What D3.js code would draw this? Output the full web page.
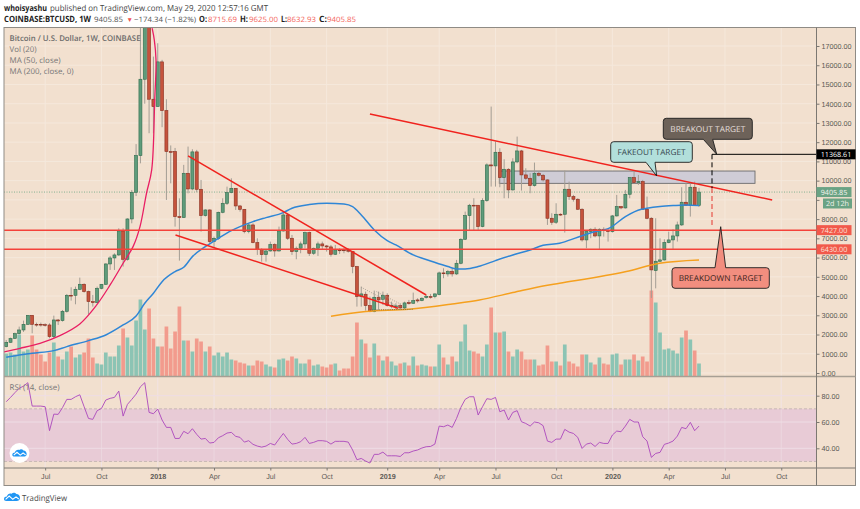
<!DOCTYPE html>
<html>
<head>
<meta charset="utf-8">
<script src="https://cdn.jsdelivr.net/npm/d3@7"></script>
<style>
  html, body { margin: 0; padding: 0; background: #ffffff; }
  svg { display: block; }
  text { font-family: "Open Sans", "Liberation Sans", sans-serif; text-rendering: geometricPrecision; }
  .axis text { font-family: "Liberation Sans", sans-serif; font-size: 7.2px; fill: #5d5a56; }
</style>
</head>
<body>
<div id="chart"></div>
<script>
// weekly candles
var candleOpen = [1371,1596,1804,2047,2238,2532,3000,2532,2532,2515,
  2497,1890,2757,2723,3208,4040,4040,4352,4612,4231,
  3711,3659,4404,4612,5669,5981,6137,7385,5912,8008,
  9395,11304,15272,18000,14233,13850,16174,13644,11512,11512,
  8130,8078,10383,9568,11495,9551,8182,8476,6830,7003,
  8355,8823,9378,9603,8684,8511,7350,7697,6778,6431,
  6154,6345,6674,6345,7385,8216,7005,6312,6485,6710,
  7300,6225,6485,6710,6606,6555,6173,6398,6398,6381,
  6312,5532,3972,4094,3504,3192,3938,3834,4042,3504,
  3452,3504,3383,3660,3626,3799,3764,3920,3972,3972,
  4076,5203,5151,5289,5151,5705,6953,8183,8721,8721,
  7612,8963,10818,10766,11476,10159,10592,9518,10973,11545,
  10298,10124,9743,10384,10280,10038,8045,7837,8253,8253,
  9553,9171,9033,8513,6918,7352,7473,7126,7473,7404,
  7352,8166,8651,8582,9293,10159,9899,9951,8513,8045,
  5324,5809,5878,6780,6918,7126,7698,8877,8721,9657,8716];
var candleClose = [1596,1787,2047,2238,2532,3000,2532,2497,2497,2480,
  1890,2757,2705,3208,4040,4005,4352,4612,4231,3711,
  3659,4404,4612,5669,5981,6137,7385,5912,8008,9395,
  11304,15272,19000,14233,13850,16174,13644,11512,11500,8130,
  8078,10383,9568,11495,9551,8182,8476,6830,7003,8355,
  8823,9378,9603,8684,8511,7350,7697,6778,6431,6154,
  6345,6674,6345,7385,8216,7005,6312,6485,6710,7300,
  6225,6485,6710,6606,6555,6173,6398,6364,6381,6329,
  5532,3972,4111,3504,3192,3938,3799,4042,3504,3522,
  3487,3383,3643,3608,3764,3747,3886,3972,3955,4111,
  5203,5186,5272,5151,5705,6953,8183,8721,8686,7612,
  8963,10818,10766,11476,10159,10592,9518,10973,11545,10298,
  10124,9743,10384,10280,10038,8045,7837,8253,8218,9553,
  9171,9033,8513,6918,7352,7473,7126,7473,7404,7352,
  8166,8651,8582,9293,10159,9899,9951,8513,8045,5359,
  5809,5878,6780,6918,7126,7698,8877,8721,9657,8721,9406];
var candleHigh = [1716,1839,2099,2411,2723,3000,3000,2619,2619,2584,
  2584,2983,2809,3277,4109,4456,4491,4958,4664,4283,
  4057,4491,4629,5703,6085,6223,7523,7523,8043,9516,
  11900,19000,19800,19700,16450,17144,16280,14233,11830,11700,
  9080,10820,11771,11633,11600,10036,8511,8511,7090,8390,
  9083,9690,10123,9603,8736,8511,7783,7783,7003,6483,
  6397,6830,6743,7610,8390,8303,7178,6572,6832,7352,
  7352,6520,6832,6832,6658,6658,6658,6485,6485,6485,
  6347,5567,4492,4232,3972,4284,4232,4232,4146,3712,
  3626,3626,3712,3799,4180,3886,3938,4059,4111,4146,
  5272,5445,5359,5445,5879,7005,8391,8790,9085,8721,
  9085,10900,13850,12031,11684,11112,10644,11164,12291,11598,
  10644,10384,10939,10471,10350,10072,8305,8825,8305,10523,
  9951,9258,9085,8565,7404,7525,7577,7525,7577,7473,
  8218,9258,8686,9518,10176,10471,10297,10038,9171,8097,
  8045,7005,6953,7351,7473,7871,9657,9865,9865,9951,9625];
var candleLow = [1336,1579,1770,2012,2134,2497,2064,2411,2411,2411,
  1804,1804,2497,2671,3139,3763,3572,4317,4178,3052,
  3451,3624,4352,4577,5357,5357,6085,5530,5842,7783,
  9200,10900,14000,12465,12465,13850,12780,8996,9860,7610,
  5842,8078,9340,9500,9400,7350,8130,6743,6483,6917,
  8303,8736,9343,8476,8390,7263,7263,6743,6137,5790,
  5790,6310,6050,6310,7350,6917,6139,5913,6225,6485,
  6086,6139,6086,6398,6312,6052,6139,6190,6225,6260,
  5186,3452,3452,3244,3158,3158,3279,3539,3452,3366,
  3314,3279,3279,3556,3591,3660,3730,3868,3868,3886,
  4042,4926,5012,5012,5099,5653,6918,7438,7438,7438,
  7577,8900,9691,9691,9657,9085,9085,9483,10904,9483,
  10038,9345,9691,10211,9951,7698,7698,7750,8166,7300,
  8998,8911,8479,6832,6485,7005,7057,6450,7092,6832,
  7300,8131,8513,8547,9085,9865,9778,8478,7993,3900,
  4400,5775,5844,6745,6450,6832,7646,8686,8131,8686,8633];
var volumes = [23,24,22,42,25,27,41,27,22,15,
  24,34,20,17,25,30,19,22,24,38,
  19,13,12,24,20,20,31,48,39,31,
  56,77,47,68,38,30,30,50,28,45,
  70,36,36,25,38,35,25,30,21,24,
  20,24,17,16,14,13,11,11,16,15,
  12,10,9,17,18,16,20,18,13,13,
  17,11,12,10,9,12,13,6,8,8,
  20,54,37,33,19,33,21,16,20,15,
  11,13,14,11,20,11,12,11,10,10,
  32,19,12,20,15,35,52,26,25,23,
  20,32,69,44,44,45,25,20,27,25,
  17,17,17,11,12,31,15,15,11,32,
  15,13,10,22,22,14,12,19,13,12,
  22,23,12,17,17,22,16,20,15,86,
  74,44,27,28,26,23,39,46,37,26,13];
var rsiValues = [75.4,78.7,82.3,85.6,87.3,89.9,72.1,72.1,72.1,71.6,
  53.4,66.0,65.8,70.9,77.2,77.2,79.2,80.7,71.6,62.7,
  62.0,68.6,70.3,76.7,78.0,78.7,83.5,64.5,73.4,77.2,
  81.2,86.8,89.9,67.3,66.3,69.8,61.5,55.9,55.9,47.5,
  47.5,52.9,51.1,54.9,50.6,47.0,47.5,44.0,44.5,48.0,
  49.6,51.6,52.1,49.1,48.3,44.7,45.8,43.0,41.7,40.9,
  41.7,43.7,42.5,47.0,51.3,46.8,43.2,43.7,45.0,48.3,
  43.7,44.5,45.8,45.8,45.3,43.2,45.3,45.3,45.3,44.7,
  38.7,31.3,32.3,30.3,28.8,35.4,35.4,37.1,34.3,34.3,
  34.3,33.8,36.6,36.6,37.9,38.7,40.2,41.2,41.4,43.2,
  56.9,56.4,57.7,55.9,62.7,71.1,77.2,79.2,79.2,65.3,
  71.6,77.7,77.2,78.7,67.8,69.1,61.5,67.3,68.6,60.2,
  58.9,56.9,60.0,59.4,57.2,45.5,44.5,47.0,47.0,54.4,
  52.3,51.3,48.3,39.9,43.2,44.0,41.4,44.5,43.7,43.7,
  50.1,53.1,52.6,56.9,62.0,60.0,60.0,48.8,45.5,33.1,
  36.1,36.9,43.0,44.0,45.5,49.3,55.9,54.9,59.7,53.4,56.9];

// moving averages, week number and price
var ma50Weeks = [0,3,6,11,14,19,23,27,30,32,34,36,39,41,43,46,49,52,54,57,60,64,66,70,74,78,80,82,85,88,90,94,98,102,104,106,109,113,117,121,124,127.8,132,135.5,139.5,143,146.7,148,151,154,157,160];
var ma50Prices = [816,938,1025,1163,1371,1683,1977,2497,2965,3624,4144,4750,5270,5496,6050,6570,7003,7402,7610,7870,8078,8338,8565,8755,8825,8790,8651,8218,7438,6884,6658,6139,5827,5532,5411,5411,5532,5844,6139,6399,6641,6745,7057,7317,7560,8131,8513,8565,8651,8703,8738,8703];
var ma200Weeks = [75,83,93,103,109.3,117,124,127.8,143.2,150.9,160];
var ma200Prices = [2950,3193,3314,3591,3799,4180,4527,4666,5272,5705,5878];
var curveWeeks = [-1.4,3.2,7.8,12.4,17,20.9,24,27,29.3,30.9,32.4,33.6,34.3,34.6,34.2,33.7];
var curvePrices = [1059,1285,1544,1943,2550,3537,4577,5704,6570,7610,9343,10556,14198,16278,17317,17924];

// trend lines drawn on the chart: [week, price, week, price]
var trendLines = [[84,13468,176.9,8996],[42,11284,97,4056],[39.1,7176,90.5,3364]];
var levelPrices = [7427,6430];
var levelLabels = ["7427.00","6430.00"];
var lastPrice = 9405.85;
var targetPrice = 11368.61;

var priceTicks = d3.range(0,18000,1000);
var rsiTicks = [40,60,80];
var timeWeeks = [9,22,35,48,61,74,88,100,113,127,140,153,166,179];
var timeLabels = ["Jul","Oct","2018","Apr","Jul","Oct","2019","Apr","Jul","Oct","2020","Apr","Jul","Oct"];

var width = 860, height = 509;
var frameL = 4, frameR = 855.5, axisX = 816.5, frameT = 27.5, mainB = 376.5, rsiB = 468, frameB = 485.5;
var bg = "#f2e0cf", gridCol = "#f5e8dc";
var upCol = "#5f9c7b", downCol = "#c5533c", upEdge = "#2f6b4c", downEdge = "#8a2f20";

var x = d3.scaleLinear().domain([0,160]).range([6.2,699]);
var y = d3.scaleLinear().domain([0,17000]).range([373,46]);
var yVol = d3.scaleLinear().domain([0,100]).range([mainB,mainB-100]);
var yRsi = d3.scaleLinear().domain([40,80]).range([448.3,395.7]);

var svg = d3.select("#chart").append("svg").attr("width",width).attr("height",height);
svg.append("rect").attr("width",width).attr("height",height).attr("fill","#ffffff");
svg.append("rect").attr("x",frameL).attr("y",frameT).attr("width",frameR-frameL).attr("height",frameB-frameT).attr("fill",bg);

var defs = svg.append("defs");
defs.append("clipPath").attr("id","mainClip").append("rect")
  .attr("x",frameL).attr("y",frameT).attr("width",axisX-frameL).attr("height",mainB-frameT);

// text squeezed to the width measured in the picture
var fitText = function(tx, ty, str, len, size, col, weight, family){
  var t = svg.append("text").attr("x",tx).attr("y",ty).attr("font-size",size).attr("fill",col)
    .attr("textLength",len).attr("lengthAdjust","spacingAndGlyphs").text(str);
  if(weight) t.attr("font-weight",weight);
  if(family) t.attr("font-family",family);
  return t;
};

// grid
var grid = svg.append("g").attr("stroke",gridCol).attr("stroke-width",1);
grid.selectAll(".h").data(priceTicks).enter().append("line").attr("class","h")
  .attr("x1",frameL).attr("x2",axisX).attr("y1",function(d){ return y(d); }).attr("y2",function(d){ return y(d); });
grid.selectAll(".v").data(timeWeeks).enter().append("line").attr("class","v")
  .attr("x1",function(d){ return x(d); }).attr("x2",function(d){ return x(d); }).attr("y1",frameT).attr("y2",rsiB);

var main = svg.append("g").attr("clip-path","url(#mainClip)");

// volume
main.selectAll(".vol").data(volumes).enter().append("rect").attr("class","vol")
  .attr("x",function(d,i){ return x(i)-1.85; }).attr("width",3.7)
  .attr("y",function(d){ return yVol(d); }).attr("height",function(d){ return mainB-yVol(d); })
  .attr("fill",function(d,i){ return candleClose[i]>=candleOpen[i] ? "#8cc4b4" : "#f29b8d"; });

// last price line
main.append("line").attr("x1",frameL).attr("x2",axisX).attr("y1",y(lastPrice)).attr("y2",y(lastPrice))
  .attr("stroke","#6aa384").attr("stroke-width",0.8).attr("stroke-dasharray","1,1.5");

// fakeout zone
main.append("rect").attr("x",499.3).attr("width",755-499.3).attr("y",y(10500)).attr("height",y(9860)-y(10500))
  .attr("fill","#cfccd6").attr("stroke","#6b6a6c").attr("stroke-width",0.9);

// candles
main.selectAll(".wick").data(candleOpen).enter().append("line").attr("class","wick")
  .attr("x1",function(d,i){ return x(i); }).attr("x2",function(d,i){ return x(i); })
  .attr("y1",function(d,i){ return y(candleHigh[i]); }).attr("y2",function(d,i){ return y(candleLow[i]); })
  .attr("stroke","#a39d94").attr("stroke-width",1);
main.selectAll(".body").data(candleOpen).enter().append("rect").attr("class","body")
  .attr("x",function(d,i){ return x(i)-1.5; }).attr("width",3)
  .attr("y",function(d,i){ return Math.min(y(d),y(candleClose[i])); })
  .attr("height",function(d,i){ return Math.max(0.8,Math.abs(y(d)-y(candleClose[i]))); })
  .attr("fill",function(d,i){ return candleClose[i]>=d ? upCol : downCol; })
  .attr("stroke",function(d,i){ return candleClose[i]>=d ? upEdge : downEdge; })
  .attr("stroke-width",0.6);

// averages
var maLine = d3.line().x(function(d){ return x(d[0]); }).y(function(d){ return y(d[1]); }).curve(d3.curveMonotoneX);
main.append("path").attr("d",maLine(d3.zip(ma200Weeks,ma200Prices)))
  .attr("fill","none").attr("stroke","#f5a01e").attr("stroke-width",1.5);
main.append("path").attr("d",maLine(d3.zip(ma50Weeks,ma50Prices)))
  .attr("fill","none").attr("stroke","#2f86d6").attr("stroke-width",1.5);
var curveLine = d3.line().x(function(d){ return x(d[0]); }).y(function(d){ return y(d[1]); }).curve(d3.curveCatmullRom);
main.append("path").attr("d",curveLine(d3.zip(curveWeeks,curvePrices)))
  .attr("fill","none").attr("stroke","#e91e63").attr("stroke-width",1.3);

// levels and trend lines
main.selectAll(".level").data(levelPrices).enter().append("line").attr("class","level")
  .attr("x1",frameL).attr("x2",axisX).attr("y1",function(d){ return y(d); }).attr("y2",function(d){ return y(d); })
  .attr("stroke","#f4423a").attr("stroke-width",1.5);
main.selectAll(".trend").data(trendLines).enter().append("line").attr("class","trend")
  .attr("x1",function(d){ return x(d[0]); }).attr("y1",function(d){ return y(d[1]); })
  .attr("x2",function(d){ return x(d[2]); }).attr("y2",function(d){ return y(d[3]); })
  .attr("stroke","#f0231e").attr("stroke-width",1.5);

// little triangle drawn at the 2019 bottom
var triLines = [[82,4458,90.7,3418],[85.5,4232,90.7,3626],[84,3279,94,3314]];
main.selectAll(".tri").data(triLines).enter().append("line").attr("class","tri")
  .attr("x1",function(d){ return x(d[0]); }).attr("y1",function(d){ return y(d[1]); })
  .attr("x2",function(d){ return x(d[2]); }).attr("y2",function(d){ return y(d[3]); })
  .attr("stroke",function(d,i){ return i==2 ? "#5b5b4e" : "#9d958b"; }).attr("stroke-width",0.8).attr("stroke-dasharray","1,1.2");

// target lines
main.append("line").attr("x1",712).attr("x2",712).attr("y1",y(targetPrice)).attr("y2",188)
  .attr("stroke","#000000").attr("stroke-width",1).attr("stroke-dasharray","5,3");
main.append("line").attr("x1",712).attr("x2",712).attr("y1",188).attr("y2",228)
  .attr("stroke","#e5372e").attr("stroke-width",1).attr("stroke-dasharray","5,3");
main.append("line").attr("x1",712).attr("x2",axisX).attr("y1",y(targetPrice)).attr("y2",y(targetPrice))
  .attr("stroke","#000000").attr("stroke-width",1);

// callouts
var callout = function(bx, by, bw, bh, tail, fill, txtCol, label, len){
  var p;
  if(tail[2][1] > by+bh){
    p = "M"+(bx+3)+","+by+"H"+(bx+bw-3)+"Q"+(bx+bw)+","+by+" "+(bx+bw)+","+(by+3)+"V"+(by+bh-3)+"Q"+(bx+bw)+","+(by+bh)+" "+(bx+bw-3)+","+(by+bh)
      +"H"+tail[1][0]+"L"+tail[2][0]+","+tail[2][1]+"L"+tail[0][0]+","+tail[0][1]
      +"H"+(bx+3)+"Q"+bx+","+(by+bh)+" "+bx+","+(by+bh-3)+"V"+(by+3)+"Q"+bx+","+by+" "+(bx+3)+","+by+"Z";
  } else {
    p = "M"+(bx+3)+","+by+"H"+tail[0][0]+"L"+tail[2][0]+","+tail[2][1]+"L"+tail[1][0]+","+tail[1][1]+"H"+(bx+bw-3)
      +"Q"+(bx+bw)+","+by+" "+(bx+bw)+","+(by+3)+"V"+(by+bh-3)+"Q"+(bx+bw)+","+(by+bh)+" "+(bx+bw-3)+","+(by+bh)
      +"H"+(bx+3)+"Q"+bx+","+(by+bh)+" "+bx+","+(by+bh-3)+"V"+(by+3)+"Q"+bx+","+by+" "+(bx+3)+","+by+"Z";
  }
  svg.append("path").attr("d",p).attr("fill",fill).attr("stroke","#1c1c1c").attr("stroke-width",0.9);
  fitText(bx+(bw-len)/2,by+bh/2+2.9,label,len,8.2,txtCol);
};
callout(663.3,118.3,89,21,[[703.3,139.3],[712.7,139.3],[716.7,154.3]],"#6d6259","#e4dfda","BREAKOUT TARGET",75);
callout(610.7,141.7,81.6,20.6,[[646,162.3],[655,162.3],[656.7,176]],"#b2dfdb","#37474f","FAKEOUT TARGET",68);
callout(672,267.7,97.3,20.6,[[715,267.7],[725.7,267.7],[720.7,226.7]],"#f28e7f","#3a2420","BREAKDOWN TARGET",84);

// RSI pane
svg.append("rect").attr("x",frameL).attr("width",axisX-frameL).attr("y",yRsi(70)).attr("height",yRsi(30)-yRsi(70))
  .attr("fill","#e8cbd6");
[70,30].forEach(function(v){
  svg.append("line").attr("x1",frameL).attr("x2",axisX).attr("y1",yRsi(v)).attr("y2",yRsi(v))
    .attr("stroke","#c7b8b4").attr("stroke-width",1).attr("stroke-dasharray","3,2");
});
svg.selectAll(".rsiGrid").data(rsiTicks).enter().append("line").attr("class","rsiGrid")
  .attr("x1",frameL).attr("x2",axisX).attr("y1",function(d){ return yRsi(d); }).attr("y2",function(d){ return yRsi(d); })
  .attr("stroke","#eedde5").attr("stroke-width",1);
svg.selectAll(".rsiV").data(timeWeeks).enter().append("line").attr("class","rsiV")
  .attr("x1",function(d){ return x(d); }).attr("x2",function(d){ return x(d); }).attr("y1",mainB).attr("y2",rsiB)
  .attr("stroke","#eedde5").attr("stroke-opacity",0.6);
var rsiLine = d3.line().x(function(d,i){ return x(i); }).y(function(d){ return yRsi(d); });
svg.append("path").attr("d",rsiLine(rsiValues)).attr("fill","none").attr("stroke","#ab47bc").attr("stroke-width",0.9);

// axes, the 9000 label sits under the countdown tag in the original
var priceAxis = d3.axisRight(y).tickValues(priceTicks).tickSize(3).tickPadding(2).tickFormat(function(d){ return d==9000 ? "" : d.toFixed(2); });
var pAxisG = svg.append("g").attr("class","axis").attr("transform","translate("+axisX+",0)").call(priceAxis);
pAxisG.select(".domain").remove();
var rsiAxis = d3.axisRight(yRsi).tickValues(rsiTicks).tickSize(3).tickPadding(2).tickFormat(function(d){ return d.toFixed(2); });
var rAxisG = svg.append("g").attr("class","axis").attr("transform","translate("+axisX+",0)").call(rsiAxis);
rAxisG.select(".domain").remove();
var timeAxis = d3.axisBottom(x).tickValues(timeWeeks).tickSize(2.5).tickPadding(3).tickFormat(function(d,i){ return timeLabels[i]; });
var tAxisG = svg.append("g").attr("class","axis").attr("transform","translate(0,"+rsiB+")").call(timeAxis);
tAxisG.select(".domain").remove();
tAxisG.selectAll("text").attr("font-weight",function(d,i){ return timeLabels[i].length==4 ? "bold" : "normal"; });
d3.selectAll(".axis line").attr("stroke","#7c7872");

// pane borders
var border = svg.append("g").attr("stroke","#8f8b85").attr("fill","none");
border.append("rect").attr("x",frameL).attr("y",frameT).attr("width",frameR-frameL).attr("height",frameB-frameT).attr("stroke-width",1);
border.append("line").attr("x1",frameL).attr("x2",frameR).attr("y1",mainB).attr("y2",mainB).attr("stroke","#a79f94").attr("stroke-width",1.6);
border.append("line").attr("x1",frameL).attr("x2",frameR).attr("y1",rsiB).attr("y2",rsiB).attr("stroke","#7c7872");
border.append("line").attr("x1",axisX).attr("x2",axisX).attr("y1",frameT).attr("y2",frameB).attr("stroke","#7c7872");

// price labels
var priceTag = function(cy, h, wid, fill, txtCol, label){
  svg.append("rect").attr("x",axisX).attr("y",cy-h/2).attr("width",wid).attr("height",h).attr("fill",fill);
  svg.append("text").attr("x",axisX+wid/2).attr("y",cy+2.6).attr("text-anchor","middle")
    .attr("font-family","Liberation Sans").attr("font-size",7.2).attr("fill",txtCol).text(label);
};
priceTag(y(targetPrice),10,39,"#000000","#ffffff",targetPrice.toFixed(2));
priceTag(y(lastPrice),10,35,"#6aa384","#f4f4ee",lastPrice.toFixed(2));
svg.append("rect").attr("x",823).attr("y",198.5).attr("width",29).attr("height",10).attr("fill","#6aa384");
svg.append("text").attr("x",837.5).attr("y",206).attr("text-anchor","middle").attr("font-family","Liberation Sans")
  .attr("font-size",7.2).attr("fill","#f4f4ee").text("2d 12h");
priceTag(y(levelPrices[0]),10,35,"#f2594b","#fbe3da",levelLabels[0]);
priceTag(y(levelPrices[1]),10,35,"#f2594b","#fbe3da",levelLabels[1]);

// legends
fitText(9.5,41,"Bitcoin / U.S. Dollar, 1W, COINBASE",131,7.9,"#6b6b6b",600);
fitText(9.5,52,"Vol (20)",27,7.9,"#777777");
fitText(9.5,63,"MA (50, close)",51,7.9,"#777777");
fitText(9.5,74,"MA (200, close, 0)",64,7.9,"#777777");
fitText(9.5,390,"RSI (14, close)",50,7.9,"#777777");

// header
fitText(4,11,"whoisyashu",43,8.6,"#222222",700);
fitText(50,11,"published on TradingView.com, May 29, 2020 12:57:16 GMT",218,8.4,"#444444");
fitText(4,22,"COINBASE:BTCUSD, 1W",87,8.6,"#222222",700);
fitText(94,22,"9405.85",29,7.4,"#555555",null,"Liberation Sans");
svg.append("text").attr("x",126.5).attr("y",22).attr("font-size",6.5).attr("fill","#ef5350").text("▼");
fitText(134,22,"−174.34 (−1.82%)",62,7.4,"#555555",null,"Liberation Sans");
var ohlcNames = ["O:","H:","L:","C:"], ohlcValues = ["8715.69","9625.00","8632.93","9405.85"];
var ohlcNameX = [199,240,281,319], ohlcValueX = [208,249,287,327];
ohlcNames.forEach(function(n,i){
  fitText(ohlcNameX[i],22,n,i==2 ? 6 : 8,8.6,"#222222",700);
  fitText(ohlcValueX[i],22,ohlcValues[i],29,7.4,"#f4665c",null,"Liberation Sans");
});

// logos
var cloud = "M0,8 C0,6 2,5 3.5,5 C4.5,2 7,0.5 9.5,1.5 C11,0 14,0 15.5,2 C18,2 20,4 20,7 C20,9.5 18,10.5 16,10.5 L3,10.5 C1,10.5 0,9.5 0,8 Z";
var zig = "M2,8.5 L6.5,4.5 L11,8.5 L15,5.5 L18.5,8.2";
svg.append("circle").attr("cx",19.5).attr("cy",453).attr("r",10).attr("fill","#ffffff");
var logo1 = svg.append("g").attr("transform","translate(12.3,449) scale(0.72)");
logo1.append("path").attr("d",cloud).attr("fill","#2196f3");
logo1.append("path").attr("d",zig).attr("fill","none").attr("stroke","#ffffff").attr("stroke-width",1.6);
var logo2 = svg.append("g").attr("transform","translate(4,492.5) scale(0.8)");
logo2.append("path").attr("d",cloud).attr("fill","#2196f3");
logo2.append("path").attr("d",zig).attr("fill","none").attr("stroke","#ffffff").attr("stroke-width",1.4);
fitText(22,500.5,"TradingView",45,8.4,"#4a4a4a");
</script>
</body>
</html>
